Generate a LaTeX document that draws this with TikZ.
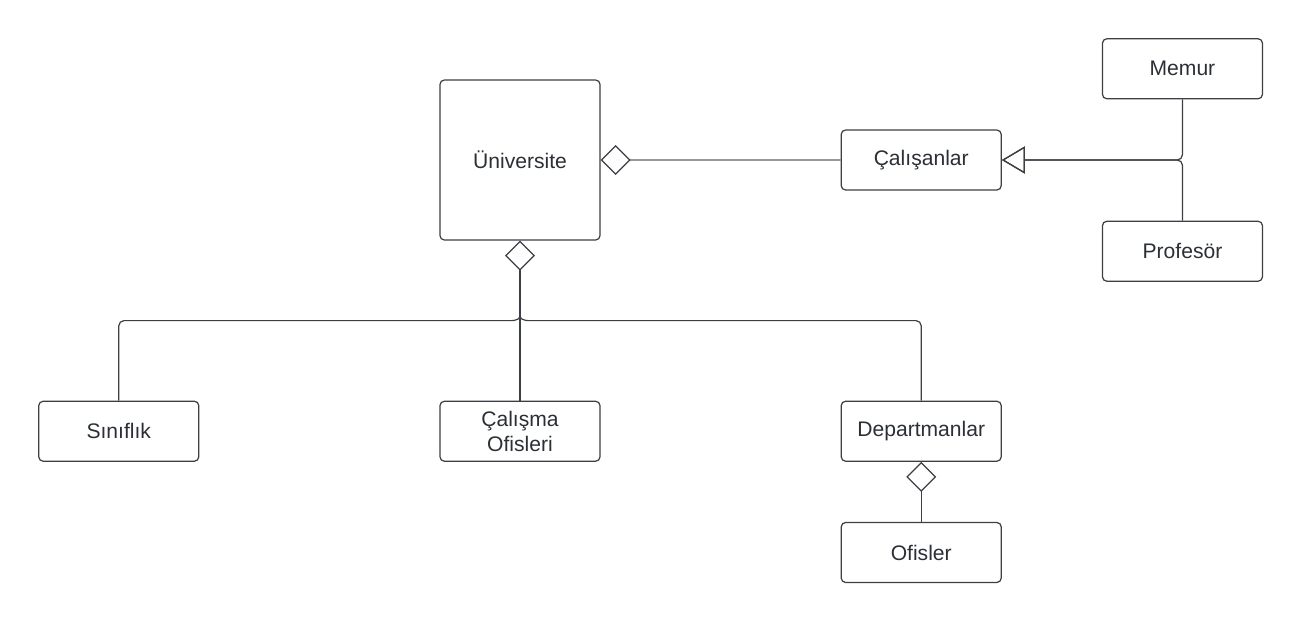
\documentclass[tikz,border=0pt]{standalone}
\usepackage{fontspec}
\setmainfont{Liberation Sans}
\usepackage{tikz}
\usetikzlibrary{positioning,arrows.meta}
\definecolor{ink}{HTML}{2B2F36}
\definecolor{edge}{HTML}{3C3F45}

\begin{document}
\begin{tikzpicture}[node distance=2cm,line width=0.7pt,
    cls/.style={draw=edge,rounded corners=2.5pt,minimum width=3.2cm,minimum height=1.2cm,
        text=ink,font=\fontsize{12}{14.5}\selectfont,align=center},
    aggr/.style={draw=edge,-{Diamond[open,length=0.6cm,width=0.6cm]}},
    gen/.style={draw=edge,rounded corners=3pt,-{Triangle[open,length=0.46cm,width=0.54cm]}}]
        \useasboundingbox (0,0) rectangle (26,-12.4);
        \node[cls,minimum height=3.2cm] (uni) at (10.4,-3.2) {Üniversite};
        \node[cls] (cal) [right=4.8cm of uni] {Çalışanlar};
        \node[cls] (memur) [above right=0.6cm and 2cm of cal] {Memur};
        \node[cls] (prof) [below right=0.6cm and 2cm of cal] {Profesör};
        \node[cls] (calofis) [below=3.2cm of uni] {Çalışma\\Ofisleri};
        \node[cls] (sinif) [left=4.8cm of calofis] {Sınıflık};
        \node[cls] (dep) [right=4.8cm of calofis] {Departmanlar};
        \node[cls] (ofis) [below=1.2cm of dep] {Ofisler};
        \coordinate[below=1.6cm of uni] (bus);

        \draw[aggr,draw=black!40,-{Diamond[open,length=0.6cm,width=0.6cm,color=edge]}] (cal.west) -- (uni.east);
        \draw[gen] (memur.south) |- (cal.east);
        \draw[gen] (prof.north) |- (cal.east);
        \draw[aggr] (calofis.north) -- (uni.south);
        \draw[edge,rounded corners=3pt] (sinif.north) |- ([xshift=-1.5pt]bus) -- ++(1.5pt,1.5pt);
        \draw[edge,rounded corners=3pt] (dep.north) |- ([xshift=1.5pt]bus) -- ++(-1.5pt,1.5pt);
        \draw[aggr] (ofis.north) -- (dep.south);
    \end{tikzpicture}
\end{document}
